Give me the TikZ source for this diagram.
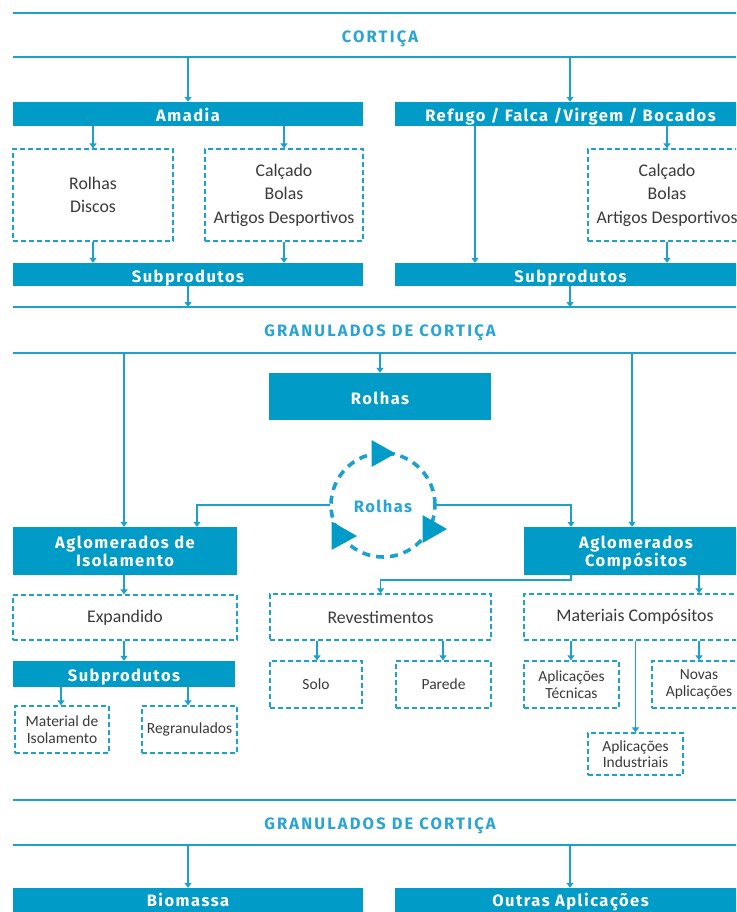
\documentclass[tikz,border=0pt]{standalone}
\usepackage{fontspec}
\setmainfont{Carlito}
\newfontfamily\headfont{Fira Sans}[UprightFont=* Bold, LetterSpace=9]
\newfontfamily\titlefont{Fira Sans}[UprightFont=* Bold, LetterSpace=13]
\usetikzlibrary{arrows.meta,calc}

\definecolor{barblue}{HTML}{009BC7}
\definecolor{lineblue}{HTML}{1AA1D1}
\definecolor{headblue}{HTML}{2AA4D4}
\definecolor{boxtext}{HTML}{3A3A3A}

% invisible rules that fix the height of the first line and depth of the last line
\newcommand{\toprule}{\rule{0pt}{18pt}}
\newcommand{\botrule}{\rule[-4.6pt]{0pt}{4.6pt}}

\tikzset{
  rule/.style={draw=lineblue, line width=1.6pt},
  arr/.style={draw=lineblue, line width=1.4pt, -{Triangle[width=7pt,length=5pt]}},
  barbase/.style={fill=barblue, draw=none, text=white, font=\headfont\fontsize{16.5}{18}\selectfont,
    align=center, inner sep=0pt},
  bar/.style={barbase, text height=15pt, text depth=0pt},
  bartwo/.style={barbase},
  dbox/.style={draw=lineblue, line width=1.3pt, dash pattern=on 5pt off 3pt, fill=white,
    text=boxtext, font=\fontsize{17.8}{23.5}\selectfont, align=center, inner sep=0pt},
  sbox/.style={dbox, font=\fontsize{15.5}{16.5}\selectfont},
  heading/.style={text=headblue, font=\titlefont\fontsize{16.5}{18}\selectfont, inner sep=0pt, anchor=base},
}

\begin{document}
\begin{tikzpicture}[x=1pt, y=-1pt]
\clip (0,0) rectangle (736,912);
\fill[white] (0,0) rectangle (736,912);

% ---- Cortiça band ----
\draw[rule] (13,13) -- (740,13);
\draw[rule] (13,57) -- (740,57);
\node[heading] (h1) at (380,42.5) {CORTIÇA};
\coordinate (l2) at (0,57);

\node[bar, minimum width=350pt, minimum height=24pt] (amadia) at (188,114) {Amadia};
\node[bar, minimum width=351pt, minimum height=24pt] (refugo) at (570.5,114) {Refugo / Falca /Virgem / Bocados};

\node[dbox, minimum width=160pt, minimum height=92pt] (rd) at (93,195) {Rolhas\\Discos};
\node[dbox, minimum width=158pt, minimum height=92pt] (cal1) at (284,195) {Calçado\\Bolas\\Artigos Desportivos};
\node[dbox, minimum width=158pt, minimum height=92pt] (cal2) at (667,195) {Calçado\\Bolas\\Artigos Desportivos};

\node[bar, minimum width=350pt, minimum height=23pt] (sub1) at (188,274.5) {Subprodutos};
\node[bar, minimum width=351pt, minimum height=23pt] (sub2) at (570.5,274.5) {Subprodutos};

\coordinate (xa) at (188,0);
\coordinate (xr) at (570,0);
\coordinate (xf) at (475,0);

\draw[arr] (xa |- l2) -- (amadia.north);
\draw[arr] (xr |- l2) -- (xr |- refugo.north);
\draw[arr] (rd.north |- amadia.south) -- (rd.north);
\draw[arr] (cal1.north |- amadia.south) -- (cal1.north);
\draw[arr] (cal2.north |- refugo.south) -- (cal2.north);
\draw[arr] (xf |- refugo.south) -- (xf |- sub2.north);
\draw[arr] (rd.south) -- (rd.south |- sub1.north);
\draw[arr] (cal1.south) -- (cal1.south |- sub1.north);
\draw[arr] (cal2.south) -- (cal2.south |- sub2.north);

% ---- Granulados band ----
\draw[rule] (13,307) -- (740,307);
\draw[rule] (13,353) -- (740,353);
\node[heading] (h2) at (380,336.5) {GRANULADOS DE CORTIÇA};
\coordinate (l3) at (0,307);
\coordinate (l4) at (0,353);

\draw[arr] (sub1.south) -- (sub1.south |- l3);
\draw[arr] (xr |- sub2.south) -- (xr |- l3);

\node[bar, minimum width=222pt, minimum height=47pt] (rolhasbar) at (380,396.5) {Rolhas};

% recycling loop
\node[circle, minimum size=106pt, inner sep=0pt] (cyc) at (383,505) {};
\node[text=headblue, font=\headfont\fontsize{16.5}{18}\selectfont, inner sep=0pt,
      text height=11pt, text depth=0pt] (cyclabel) at (383,507) {Rolhas};
\draw[lineblue, line width=3.6pt, dash pattern=on 8pt off 6pt] (cyc.center) circle[radius=52pt];
\fill[barblue] (371.5,440) -- (371.5,467) -- (395.5,453.5) -- cycle;
\fill[barblue] (422.5,515) -- (422.5,543) -- (447,529) -- cycle;
\fill[barblue] (331.5,521.5) -- (331.5,550) -- (357,536) -- cycle;

\node[bartwo, minimum width=224pt, minimum height=48pt] (aglIso) at (125,551) {\toprule Aglomerados de\\Isolamento\botrule};
\node[bartwo, minimum width=224pt, minimum height=48pt] (aglComp) at (636,551) {\toprule Aglomerados\\Compósitos\botrule};

\coordinate (xi1) at (124,0);
\coordinate (xi2) at (197,0);
\coordinate (xc1) at (571,0);
\coordinate (xc2) at (632,0);
\coordinate (xc3) at (699,0);

\draw[arr] (xi1 |- l4) -- (xi1 |- aglIso.north);
\draw[arr] (rolhasbar.north |- l4) -- (rolhasbar.north);
\draw[arr] (xc2 |- l4) -- (xc2 |- aglComp.north);
\draw[arr] (cyc.west) -| (xi2 |- aglIso.north);
\draw[arr] (cyc.east) -| (xc1 |- aglComp.north);

% second level
\node[dbox, minimum width=224pt, minimum height=45pt] (expandido) at (125,617.5) {Expandido};
\node[dbox, minimum width=221pt, minimum height=46pt] (revest) at (380.5,617) {Revestimentos};
\node[dbox, minimum width=222pt, minimum height=46pt] (matcomp) at (635,617) {Materiais Compósitos};

\coordinate (jog) at (0,580);
\draw[arr] (xc1 |- aglComp.south) -- (xc1 |- jog) -| (revest.north);
\draw[arr] (xc3 |- aglComp.south) -- (xc3 |- matcomp.north);
\draw[arr] (xi1 |- aglIso.south) -- (xi1 |- expandido.north);

\node[bar, minimum width=222pt, minimum height=26pt] (sub3) at (124,674) {Subprodutos};
\draw[arr] (xi1 |- expandido.south) -- (xi1 |- sub3.north);

\node[sbox, minimum width=94pt, minimum height=47pt] (matiso) at (62,729.5) {Material de\\Isolamento};
\node[sbox, minimum width=95pt, minimum height=47pt] (regran) at (189.5,729.5) {Regranulados};
\coordinate (xs1) at (61,0);
\coordinate (xs2) at (188,0);
\draw[arr] (xs1 |- sub3.south) -- (xs1 |- matiso.north);
\draw[arr] (xs2 |- sub3.south) -- (xs2 |- regran.north);

\node[sbox, minimum width=92pt, minimum height=47pt] (solo) at (316,684.5) {Solo};
\node[sbox, minimum width=95pt, minimum height=47pt] (parede) at (443.5,684.5) {Parede};
\coordinate (xv1) at (317,0);
\coordinate (xv2) at (443,0);
\draw[arr] (xv1 |- revest.south) -- (xv1 |- solo.north);
\draw[arr] (xv2 |- revest.south) -- (xv2 |- parede.north);

\node[sbox, minimum width=95pt, minimum height=47pt] (tecn) at (571.5,684.5) {Aplicações\\Técnicas};
\node[sbox, minimum width=94pt, minimum height=47pt] (novas) at (699,684.5) {Novas\\Aplicações};
\node[sbox, minimum width=95pt, minimum height=42pt] (indus) at (635.5,754) {Aplicações\\Industriais};
\draw[arr] (xc1 |- matcomp.south) -- (xc1 |- tecn.north);
\draw[arr] (xc3 |- matcomp.south) -- (xc3 |- novas.north);
\draw[arr] (indus.north |- matcomp.south) -- (indus.north);

% ---- bottom band ----
\draw[rule] (13,800) -- (740,800);
\draw[rule] (13,845) -- (740,845);
\node[heading] (h3) at (380,829) {GRANULADOS DE CORTIÇA};
\coordinate (l6) at (0,845);

\node[bar, minimum width=350pt, minimum height=24pt, text height=13pt] (biomassa) at (188,900) {Biomassa};
\node[bar, minimum width=351pt, minimum height=24pt, text height=13pt] (outras) at (570.5,900) {Outras Aplicações};
\fill[barblue] (biomassa.south west) rectangle ([yshift=-10pt]biomassa.south east);
\fill[barblue] (outras.south west) rectangle ([yshift=-10pt]outras.south east);
\draw[arr] (xa |- l6) -- (biomassa.north);
\draw[arr] (xr |- l6) -- (xr |- outras.north);
\end{tikzpicture}
\end{document}
